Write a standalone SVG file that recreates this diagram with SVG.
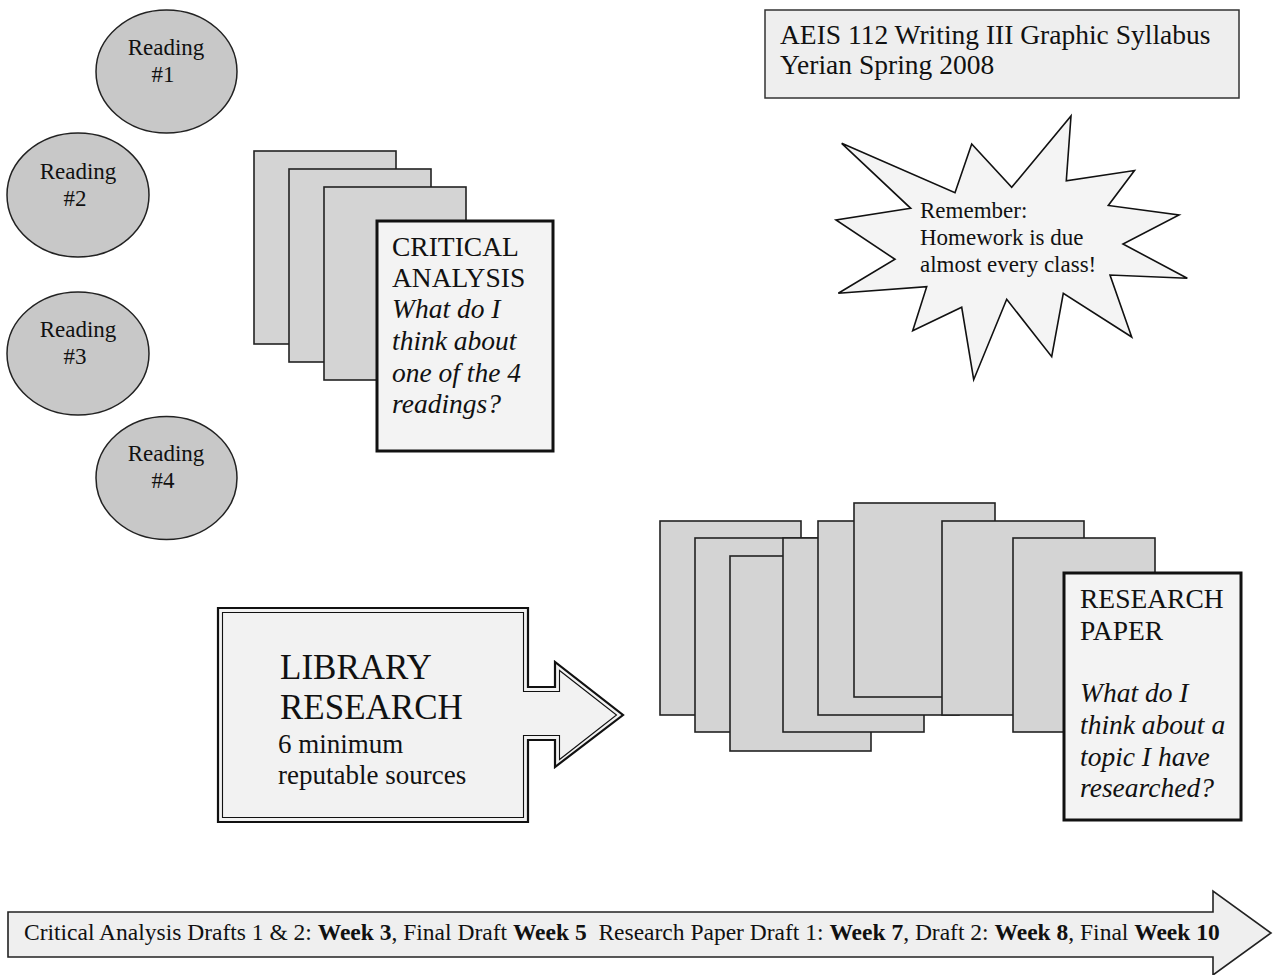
<svg xmlns="http://www.w3.org/2000/svg" width="1274" height="975" viewBox="0 0 1274 975">
<style>
text{font-family:"Liberation Serif","Times New Roman",serif;fill:#111}
.rd{font-size:23px;text-anchor:middle}
.ell{fill:#c8c8c8;stroke:#222;stroke-width:1.5}
.pg{fill:#d4d4d4;stroke:#222;stroke-width:1.6}
.front{fill:#f3f3f3;stroke:#111;stroke-width:3}
.lbl{font-size:27.5px}
.it{font-style:italic}
.b{font-weight:bold}
</style>
<rect width="1274" height="975" fill="#ffffff"/>

<g id="title">
<rect x="765" y="10" width="474" height="88" fill="#eeeeee" stroke="#333" stroke-width="1.5"/>
<text class="lbl" x="780" y="44">AEIS 112 Writing III Graphic Syllabus</text>
<text class="lbl" x="780" y="74">Yerian Spring 2008</text>
</g>

<g id="reading1">
<ellipse class="ell" cx="166.5" cy="71.5" rx="70.5" ry="61.5"/>
<text class="rd" x="166" y="55">Reading</text>
<text class="rd" x="163" y="82">#1</text>
</g>
<g id="reading2">
<ellipse class="ell" cx="78" cy="195" rx="71" ry="62"/>
<text class="rd" x="78" y="179">Reading</text>
<text class="rd" x="75" y="206">#2</text>
</g>
<g id="reading3">
<ellipse class="ell" cx="78" cy="353.5" rx="71" ry="61.5"/>
<text class="rd" x="78" y="337">Reading</text>
<text class="rd" x="75" y="364">#3</text>
</g>
<g id="reading4">
<ellipse class="ell" cx="166.5" cy="478" rx="70.5" ry="61.5"/>
<text class="rd" x="166" y="461">Reading</text>
<text class="rd" x="163" y="488">#4</text>
</g>

<g id="critical-analysis">
<rect class="pg" x="254" y="151" width="142" height="193"/>
<rect class="pg" x="289" y="169" width="142" height="193"/>
<rect class="pg" x="324" y="187" width="142" height="193"/>
<rect class="front" x="377" y="221" width="176" height="230"/>
<text class="lbl" x="392" y="256">CRITICAL</text>
<text class="lbl" x="392" y="287">ANALYSIS</text>
<text class="lbl it" x="392" y="318">What do I</text>
<text class="lbl it" x="392" y="350">think about</text>
<text class="lbl it" x="392" y="382">one of the 4</text>
<text class="lbl it" x="392" y="413">readings?</text>
</g>

<g id="reminder">
<polygon points="841.7,143.3 955,192.7 971.7,144 1011.7,187.3 1071,116 1066.3,180.7 1134.5,170.5 1108.3,205.5 1179,215 1123,244 1187.3,278.3 1110,275 1131.7,337 1063.3,293.3 1051.7,356.7 1006.7,299.3 973.7,379.7 961.7,307.3 912.7,330.7 926.7,286.7 838.3,293.3 895,259.3 836,220 910.7,208.3" fill="#f4f4f4" stroke="#111" stroke-width="1.6" stroke-linejoin="miter"/>
<text class="rd" style="text-anchor:start" x="920" y="218">Remember:</text>
<text class="rd" style="text-anchor:start" x="920" y="245">Homework is due</text>
<text class="rd" style="text-anchor:start" x="920" y="272">almost every class!</text>
</g>

<g id="library-research">
<path d="M218,608 H528 V687 H555 V662 L623,715 L555,767 V740 H528 V822 H218 Z" fill="#f2f2f2" stroke="#111" stroke-width="2.2"/>
<path d="M222.5,612.5 H523.5 V691.5 H559.5 V670.5 L616.5,715 L559.5,759.5 V735.5 H523.5 V817.5 H222.5 Z" fill="none" stroke="#111" stroke-width="1.1"/>
<text x="280" y="679" style="font-size:35px">LIBRARY</text>
<text x="280" y="719" style="font-size:35px">RESEARCH</text>
<text x="278" y="753" style="font-size:27px">6 minimum</text>
<text x="278" y="784" style="font-size:27px">reputable sources</text>
</g>

<g id="research-paper">
<rect class="pg" x="660" y="521" width="141" height="194"/>
<rect class="pg" x="695" y="538" width="141" height="194"/>
<rect class="pg" x="730" y="556" width="141" height="195"/>
<rect class="pg" x="783" y="538" width="141" height="194"/>
<rect class="pg" x="818" y="521" width="141" height="194"/>
<rect class="pg" x="854" y="503" width="141" height="194"/>
<rect class="pg" x="942" y="521" width="142" height="194"/>
<rect class="pg" x="1013" y="538" width="142" height="194"/>
<rect class="front" x="1064" y="573" width="177" height="247"/>
<text class="lbl" x="1080" y="608">RESEARCH</text>
<text class="lbl" x="1080" y="640">PAPER</text>
<text class="lbl it" x="1080" y="702">What do I</text>
<text class="lbl it" x="1080" y="734">think about a</text>
<text class="lbl it" x="1080" y="766">topic I have</text>
<text class="lbl it" x="1080" y="797">researched?</text>
</g>

<g id="timeline">
<path d="M8,912 H1213 V891 L1271,933 L1213,975 V957 H8 Z" fill="#efefef" stroke="#222" stroke-width="1.6"/>
<text x="24" y="940" style="font-size:23.5px" xml:space="preserve">Critical Analysis Drafts 1 &amp; 2: <tspan class="b">Week 3</tspan>, Final Draft <tspan class="b">Week 5</tspan>  Research Paper Draft 1: <tspan class="b">Week 7</tspan>, Draft 2: <tspan class="b">Week 8</tspan>, Final <tspan class="b">Week 10</tspan></text>
</g>
</svg>
